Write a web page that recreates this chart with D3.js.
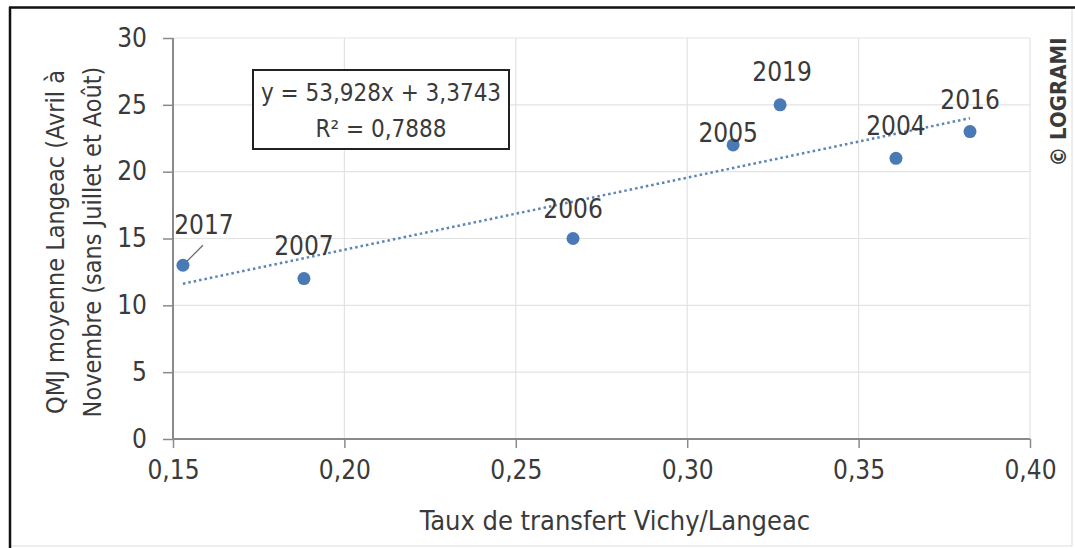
<!DOCTYPE html>
<html><head><meta charset="utf-8">
<script src="https://cdn.jsdelivr.net/npm/d3@7/dist/d3.min.js"></script>
<style>
html,body{margin:0;padding:0;background:#fff;}
svg{display:block;}
text{font-family:"Liberation Sans Narrow","DejaVu Sans Condensed","Roboto",sans-serif;fill:#3a3a3a;}
</style></head>
<body><svg id="c" width="1075" height="548"></svg>
<script>
const years = ["2017","2007","2006","2005","2019","2004","2016"];
const xValues = [0.1529, 0.1882, 0.2667, 0.3134, 0.3271, 0.3609, 0.3825];
const yValues = [13, 12, 15, 22, 25, 21, 23];
const xTicks = [0.15, 0.20, 0.25, 0.30, 0.35, 0.40];
const yTicks = [0, 5, 10, 15, 20, 25, 30];
const trendSlope = 53.928, trendIntercept = 3.3743;
const equationLines = ["y = 53,928x + 3,3743", "R² = 0,7888"];
// label offsets (dx, dy) relative to point, in px
const labelOffsets = [[21,-31],[0,-24],[0,-21],[-5,-3],[2,-24],[0,-23],[0,-23]];

const svg = d3.select("#c");
const x = d3.scaleLinear().domain([0.15, 0.40]).range([173, 1030]);
const y = d3.scaleLinear().domain([0, 30]).range([439, 38]);
const fmt = d => d3.format(".2f")(d).replace(".", ",");
const FONT = '"Liberation Sans Narrow","DejaVu Sans Condensed",sans-serif';

// outer frame
svg.append("rect").attr("x",10).attr("y",8).attr("width",1062).attr("height",538)
  .attr("fill","none").attr("stroke","#ddd").attr("stroke-width",1);
svg.append("line").attr("x1",9).attr("x2",1075).attr("y1",7.5).attr("y2",7.5).attr("stroke","#111").attr("stroke-width",2.5);
svg.append("line").attr("x1",10).attr("x2",10).attr("y1",7).attr("y2",548).attr("stroke","#111").attr("stroke-width",2.5);

// grid
svg.append("g").selectAll("line").data(yTicks.filter(d=>d>0)).join("line")
  .attr("x1",173).attr("x2",1030).attr("y1",d=>y(d)).attr("y2",d=>y(d))
  .attr("stroke","#e3e3e3").attr("stroke-width",1.2);
svg.append("g").selectAll("line").data(xTicks.filter(d=>d>0.15)).join("line")
  .attr("x1",d=>x(d)).attr("x2",d=>x(d)).attr("y1",38).attr("y2",439)
  .attr("stroke","#e3e3e3").attr("stroke-width",1.2);

// axes
const xAxis = svg.append("g").attr("transform","translate(0,439)")
  .call(d3.axisBottom(x).tickValues(xTicks).tickFormat(fmt).tickSize(9).tickPadding(13));
const yAxis = svg.append("g").attr("transform","translate(173,0)")
  .call(d3.axisLeft(y).tickValues(yTicks).tickSize(10).tickPadding(16));
[xAxis,yAxis].forEach(a=>{
  a.select(".domain").attr("stroke","#8a8a8a").attr("stroke-width",2);
  a.selectAll(".tick line").attr("stroke","#8a8a8a").attr("stroke-width",1.5);
  a.selectAll(".tick text").attr("font-size",26).attr("fill","#3a3a3a")
    .style("font-family",FONT);
});
yAxis.select(".domain").attr("d","M0,38V439");
xAxis.select(".domain").attr("d","M173,0H1030");

// trendline
const x0 = d3.min(xValues), x1 = d3.max(xValues);
svg.append("line")
  .attr("x1",x(x0)).attr("y1",y(trendSlope*x0+trendIntercept))
  .attr("x2",x(x1)).attr("y2",y(trendSlope*x1+trendIntercept))
  .attr("stroke","#5b84b8").attr("stroke-width",2.5).attr("stroke-dasharray","2.5,3");

// leader line for 2017
svg.append("line")
  .attr("x1",x(xValues[0])+3).attr("y1",y(yValues[0])-3)
  .attr("x2",x(xValues[0])+20).attr("y2",y(yValues[0])-20)
  .attr("stroke","#666").attr("stroke-width",1.2);

// points
svg.append("g").selectAll("circle").data(xValues).join("circle")
  .attr("cx",d=>x(d)).attr("cy",(d,i)=>y(yValues[i])).attr("r",6.5)
  .attr("fill","#4a7ab6");

// point labels
svg.append("g").selectAll("text").data(years).join("text")
  .attr("x",(d,i)=>x(xValues[i])+labelOffsets[i][0])
  .attr("y",(d,i)=>y(yValues[i])+labelOffsets[i][1])
  .attr("text-anchor","middle").attr("font-size",26).text(d=>d);

// equation box
svg.append("rect").attr("x",253).attr("y",70).attr("width",256).attr("height",79)
  .attr("fill","#fff").attr("stroke","#222").attr("stroke-width",2);
svg.append("g").selectAll("text").data(equationLines).join("text")
  .attr("x",381).attr("y",(d,i)=>101+i*36).attr("text-anchor","middle")
  .attr("font-size",24).text(d=>d);

// axis titles
svg.append("text").attr("x",615).attr("y",530).attr("text-anchor","middle")
  .attr("font-size",27).text("Taux de transfert Vichy/Langeac");
const yt = svg.append("text").attr("transform","translate(0,242) rotate(-90)")
  .attr("text-anchor","middle").attr("font-size",25);
yt.append("tspan").attr("x",0).attr("y",64).text("QMJ moyenne Langeac (Avril à");
yt.append("tspan").attr("x",0).attr("y",101).text("Novembre (sans Juillet et Août)");

// copyright
svg.append("text").attr("transform","translate(1066,102) rotate(-90)")
  .attr("text-anchor","middle").attr("font-size",22).attr("font-weight","bold")
  .style("font-family",'"DejaVu Sans Condensed","Liberation Sans",sans-serif')
  .attr("fill","#333").text("© LOGRAMI");
</script></body></html>
